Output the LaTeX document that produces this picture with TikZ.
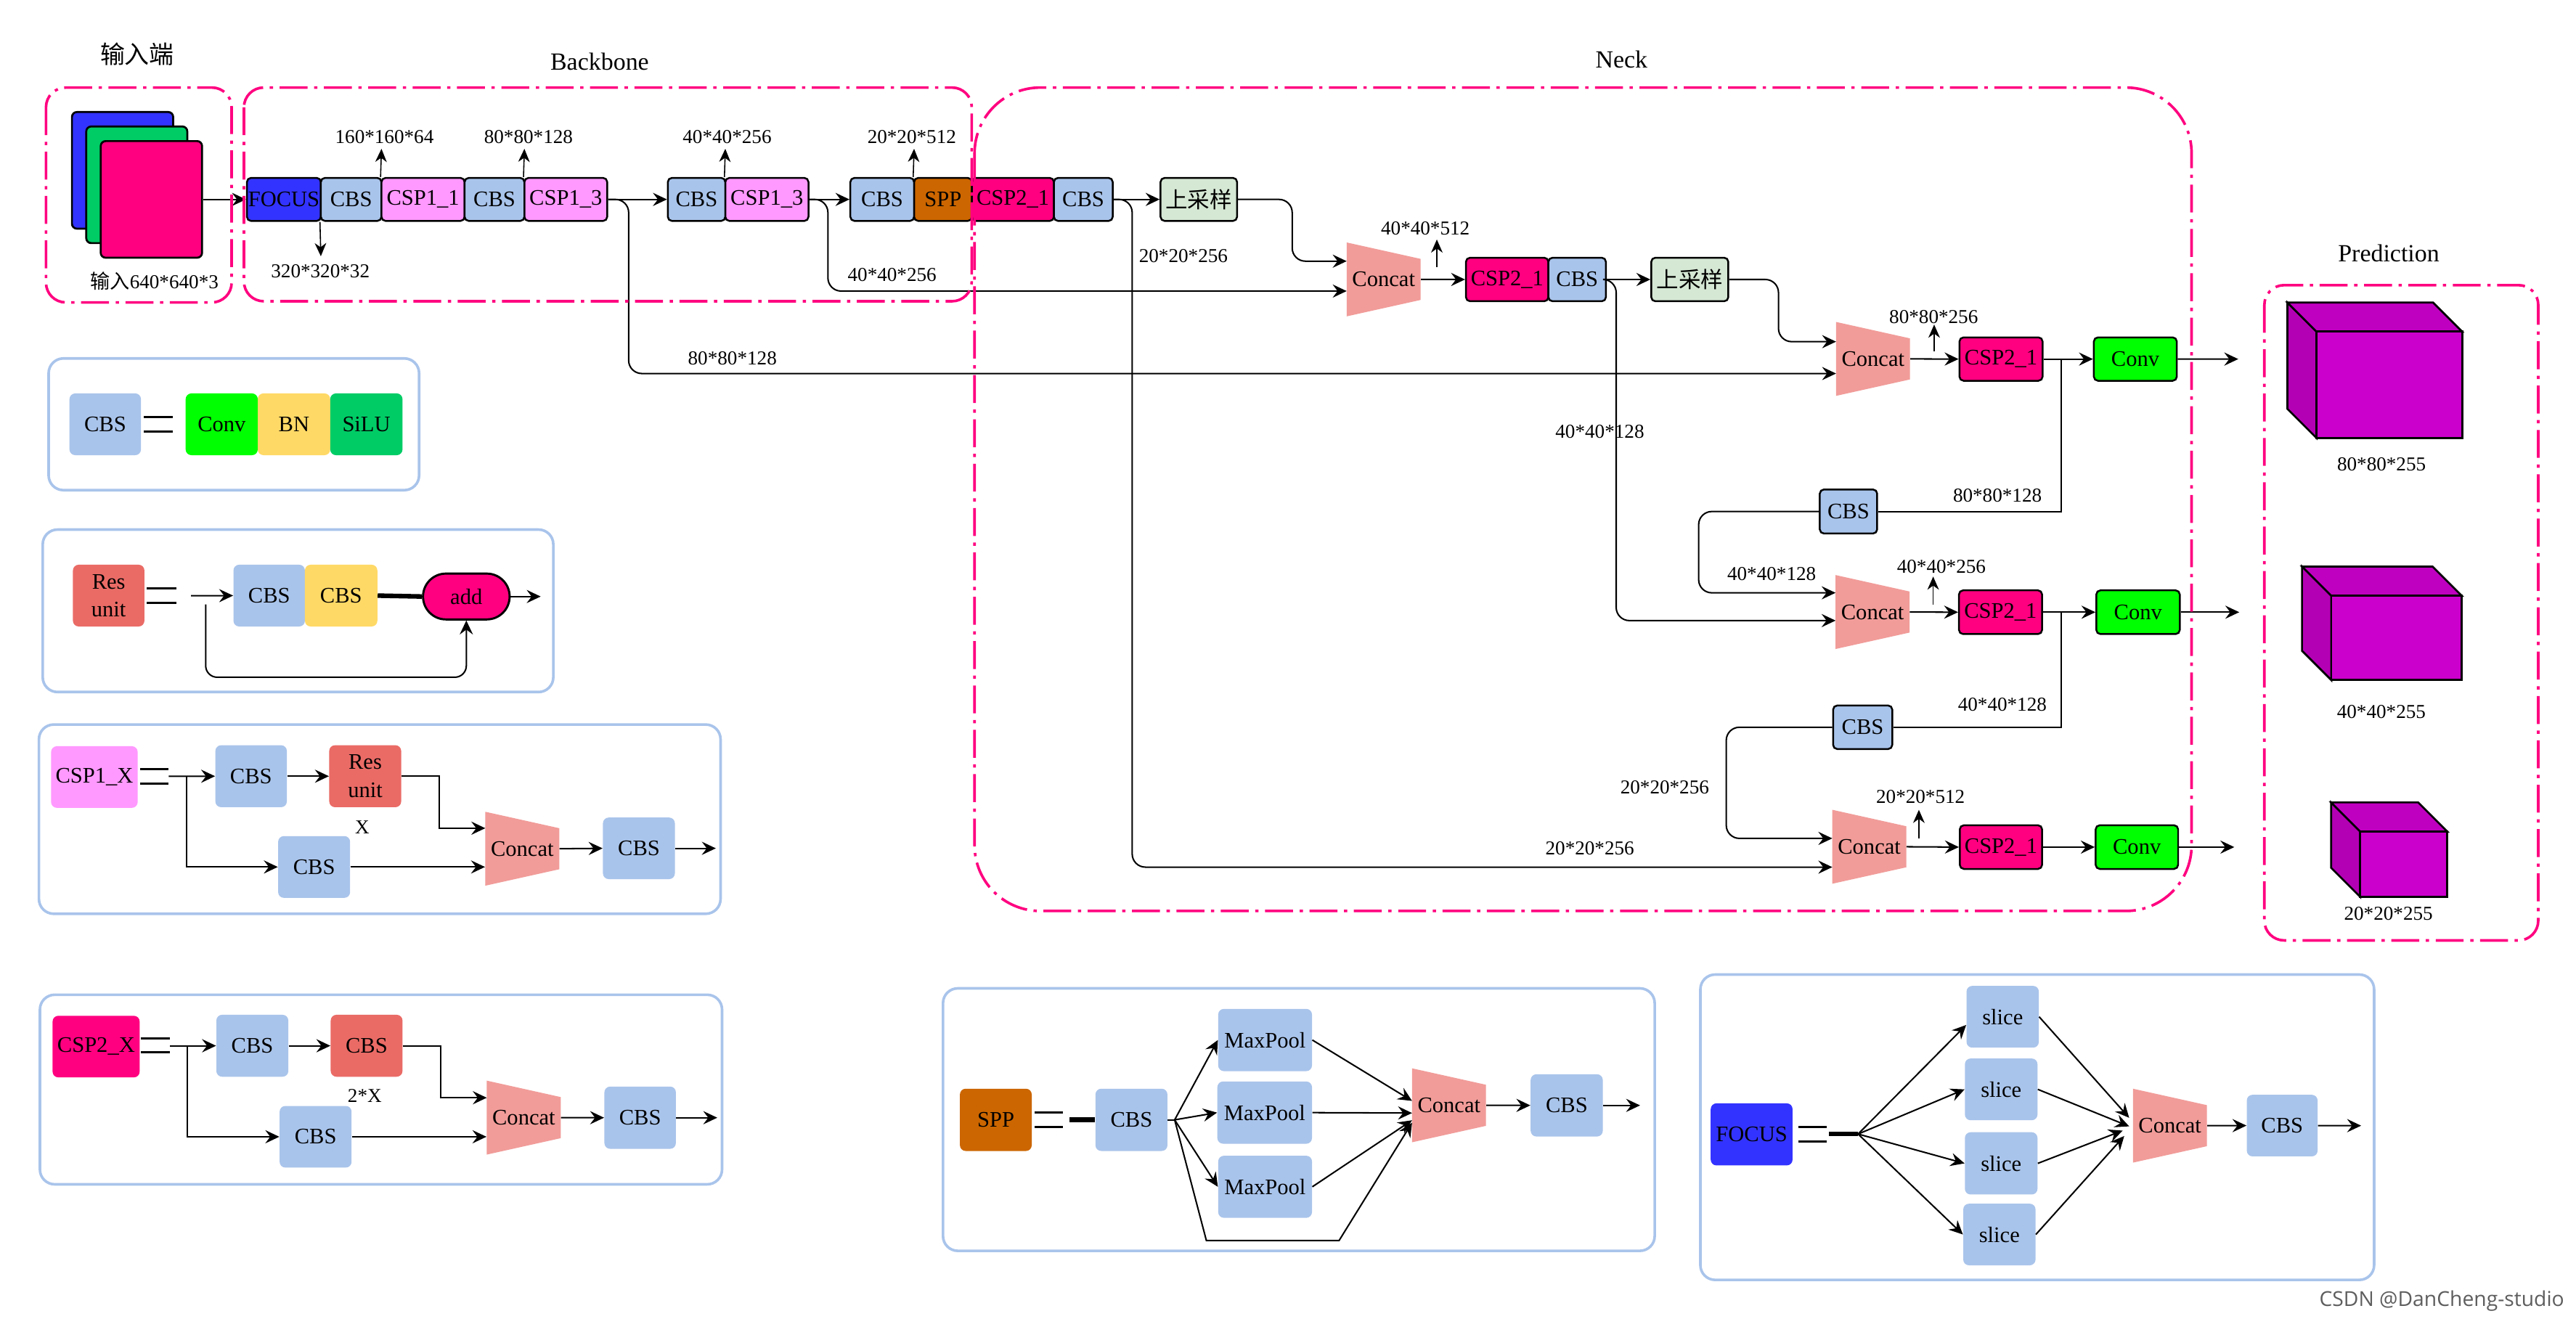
\documentclass[tikz,border=0pt]{standalone}
\usepackage{fontspec}
\setmainfont{Liberation Serif}
\newfontfamily\cjk{Noto Sans CJK SC}
\newfontfamily\wmfont{Open Sans}
\usetikzlibrary{arrows.meta}
\definecolor{cbsc}{HTML}{A9C4EB}
\definecolor{csp1c}{HTML}{FF99FF}
\definecolor{csp2c}{HTML}{FF0080}
\definecolor{focc}{HTML}{3333FF}
\definecolor{sppc}{HTML}{CC6600}
\definecolor{upc}{HTML}{D5E8D4}
\definecolor{convc}{HTML}{00FF00}
\definecolor{bnc}{HTML}{FFD966}
\definecolor{siluc}{HTML}{00CC66}
\definecolor{resc}{HTML}{EA6B66}
\definecolor{ccfill}{HTML}{F19C99}
\definecolor{ddc}{HTML}{FF0080}
\definecolor{cubefront}{HTML}{CC00CC}
\definecolor{cubetop}{HTML}{C000C0}
\definecolor{cubeside}{HTML}{B400B4}
\definecolor{wmc}{HTML}{5E5E5E}
\newcommand\fsbox{\fontsize{13.5pt}{17pt}\selectfont}
\newcommand\fsdim{\fontsize{12pt}{14pt}\selectfont}
\newcommand\fstitle{\fontsize{15pt}{18pt}\selectfont}
\newcommand\bx[7]{\node[#1, minimum width={(#5-#3)*1pt}, minimum height={(#6-#4)*1pt}] (#2) at ({(#3+#5)/2},{(#4+#6)/2}) {#7};}
\newcommand\cc[3]{\fill[ccfill] (#2,#3-22.5) -- (#2+45,#3-12.5) -- (#2+45,#3+12.5) -- (#2,#3+22.5) -- cycle;
\node[inner sep=0pt, minimum width=45pt, minimum height=45pt, font=\fsbox] (#1) at (#2+22.5,#3) {Concat};}
\newcommand\cube[5]{%
\filldraw[cubeline, fill=cubeside] (#1,#2) -- (#1-#5,#2-#5) -- (#1-#5,#2+#4-#5) -- (#1,#2+#4) -- cycle;
\filldraw[cubeline, fill=cubetop] (#1,#2) -- (#1-#5,#2-#5) -- (#1+#3-#5,#2-#5) -- (#1+#3,#2) -- cycle;
\filldraw[cubeline, fill=cubefront] (#1,#2) rectangle (#1+#3,#2+#4);}
\tikzset{
 mb/.style={draw=black, line width=1.1pt, rounded corners=2.5pt, inner sep=0pt, font=\fsbox, text=black},
 lg/.style={rounded corners=3.5pt, inner sep=0pt, font=\fsbox, text=black, align=center},
 inimg/.style={draw=black, line width=1.2pt, rounded corners=3pt, inner sep=0pt},
 dim/.style={inner sep=0pt, font=\fsdim},
 arr/.style={line width=0.9pt, -{Stealth[length=8.5pt,width=8pt,inset=3pt]}},
 tarr/.style={line width=0.7pt, -{Stealth[length=8pt,width=7pt,inset=2.5pt]}},
 ln/.style={line width=0.9pt},
 eqln/.style={line width=1.2pt},
 thk/.style={line width=2.8pt},
 dd/.style={draw=ddc, line width=1.6pt, dash pattern=on 17pt off 4pt on 2pt off 4pt},
 lgbox/.style={draw=cbsc, line width=1.6pt, rounded corners=9pt},
 cubeline/.style={draw=black, line width=1.2pt, line join=miter},
}
\begin{document}
\begin{tikzpicture}[x=1pt,y=-1pt]
\useasboundingbox (0,0) rectangle (1568,802.6);
\fill[white] (0,0) rectangle (1568,802.6);

% titles
\node[font=\fstitle\cjk] (tin) at (83.5,33) {输入端};
\node[font=\fstitle] (tbb) at (365,37.6) {Backbone};
\node[font=\fstitle] (tneck) at (987,36) {Neck};
\node[font=\fstitle] (tpred) at (1454,154) {Prediction};

% input images
\bx{inimg, fill=focc}{imgb}{43.8}{68.2}{105.4}{139.2}{}
\bx{inimg, fill=siluc}{imgg}{52.5}{77}{114}{148}{}
\bx{inimg, fill=csp2c}{imgp}{61.3}{85.9}{123}{156.9}{}
\node[dim] (lin) at (94,171) {{\cjk 输入}640*640*3};

% main row
\bx{mb,fill=focc}{foc}{150.3}{108.3}{195.3}{134.5}{FOCUS}
\bx{mb,fill=cbsc}{cbs1}{195.3}{108.3}{232.2}{134.5}{CBS}
\bx{mb,fill=csp1c}{csp11}{232.2}{108.3}{282.8}{134.5}{CSP1\_1}
\bx{mb,fill=cbsc}{cbs2}{282.8}{108.3}{319.2}{134.5}{CBS}
\bx{mb,fill=csp1c}{csp13a}{319.2}{108.3}{369.6}{134.5}{CSP1\_3}
\bx{mb,fill=cbsc}{cbs3}{406.5}{108.3}{441.5}{134.5}{CBS}
\bx{mb,fill=csp1c}{csp13b}{441.5}{108.3}{492.1}{134.5}{CSP1\_3}
\bx{mb,fill=cbsc}{cbs4}{517.6}{108.3}{556.4}{134.5}{CBS}
\bx{mb,fill=sppc}{spp1}{556.4}{108.3}{591.6}{134.5}{SPP}
\bx{mb,fill=csp2c}{csp21}{591.6}{108.3}{641.5}{134.5}{CSP2\_1}
\bx{mb,fill=cbsc}{cbs5}{641.5}{108.3}{677.3}{134.5}{CBS}
\bx{mb,fill=upc,font=\fsbox\cjk}{up1}{706.4}{108.3}{753}{134.5}{上采样}

\draw[arr] (imgp.east) -- (foc.west);
\draw[arr] (csp13a.east) -- (cbs3.west);
\draw[arr] (csp13b.east) -- (cbs4.west);
\draw[arr] (cbs5.east) -- (up1.west);

% main row dimension arrows
\coordinate (ta1) at (232.2,90.6);
\coordinate (ta2) at (319.2,90.6);
\coordinate (ta3) at (441.5,90.6);
\coordinate (ta4) at (556.4,90.6);
\coordinate (td1) at (195.3,156);
\draw[tarr] (csp11.north west) -- (ta1);
\draw[tarr] (csp13a.north west) -- (ta2);
\draw[tarr] (csp13b.north west) -- (ta3);
\draw[tarr] (spp1.north west) -- (ta4);
\draw[tarr] (cbs1.south west) -- (td1);
\node[dim] (d1) at (234,83.3) {160*160*64};
\node[dim] (d2) at (321.7,83.3) {80*80*128};
\node[dim] (d3) at (442.6,83.3) {40*40*256};
\node[dim] (d4) at (555,83.3) {20*20*512};
\node[dim] (d5) at (195,165) {320*320*32};

% neck
\cc{c1}{819.7}{170.1}
\bx{mb,fill=csp2c}{n1csp}{892.3}{156.9}{942.5}{183.4}{CSP2\_1}
\bx{mb,fill=cbsc}{n1cbs}{942.5}{156.9}{977.5}{183.4}{CBS}
\bx{mb,fill=upc,font=\fsbox\cjk}{up2}{1005.1}{156.9}{1052}{183.4}{上采样}
\cc{c2}{1117.6}{218.5}
\bx{mb,fill=csp2c}{n2csp}{1192.7}{205.4}{1243.3}{231.8}{CSP2\_1}
\bx{mb,fill=convc}{conv1}{1274.5}{205.4}{1325}{231.8}{Conv}
\bx{mb,fill=cbsc}{n2b}{1107.7}{298}{1142.6}{324.8}{CBS}
\cc{c3}{1117.3}{372.6}
\bx{mb,fill=csp2c}{n3csp}{1192.4}{359.4}{1243}{386}{CSP2\_1}
\bx{mb,fill=convc}{conv2}{1276}{359.4}{1326.8}{386}{Conv}
\bx{mb,fill=cbsc}{n3b}{1115.8}{429.5}{1151.8}{456}{CBS}
\cc{c4}{1115.3}{515.5}
\bx{mb,fill=csp2c}{n4csp}{1192.9}{502.4}{1243}{529}{CSP2\_1}
\bx{mb,fill=convc}{conv3}{1275.6}{502.4}{1325.8}{529}{Conv}

\coordinate (c1a) at (819.7,159);
\coordinate (c1b) at (819.7,177.2);
\coordinate (c2a) at (1117.6,208);
\coordinate (c2b) at (1117.6,227.4);
\coordinate (c3a) at (1117.3,360.9);
\coordinate (c3b) at (1117.3,377.8);
\coordinate (c4a) at (1115.3,510.4);
\coordinate (c4b) at (1115.3,527.9);

\draw[arr,rounded corners=8pt] (up1.east) -- ++(33,0) |- (c1a);
\draw[arr,rounded corners=8pt] (csp13b.east) -- ++(11.3,0) |- (c1b);
\draw[arr,rounded corners=8pt] (csp13a.east) -- ++(12.5,0) |- (c2b);
\draw[arr,rounded corners=8pt] (cbs5.east) -- ++(11.3,0) |- (c4b);
\draw[arr] (c1.east) -- (n1csp.west);
\draw[arr] (n1cbs.east) -- (up2.west);
\draw[arr,rounded corners=8pt] (up2.east) -- ++(30,0) |- (c2a);
\draw[arr,rounded corners=8pt] (n1cbs.east) -- ++(5.7,0) |- (c3b);
\draw[arr] (c2.east) -- (n2csp.west);
\draw[arr] (n2csp.east) -- (conv1.west);
\coordinate (o1) at (1362.4,218.6);
\draw[arr] (conv1.east) -- (o1);
\draw[ln] ([xshift=11pt]n2csp.east) |- (n2b.east);
\draw[arr,rounded corners=8pt] (n2b.west) -- ++(-73.2,0) |- (c3a);
\draw[arr] (c3.east) -- (n3csp.west);
\draw[arr] (n3csp.east) -- (conv2.west);
\coordinate (o2) at (1363,372.7);
\draw[arr] (conv2.east) -- (o2);
\draw[ln] ([xshift=11.3pt]n3csp.east) |- (n3b.east);
\draw[arr,rounded corners=8pt] (n3b.west) -- ++(-64.5,0) |- (c4a);
\draw[arr] (c4.east) -- (n4csp.west);
\draw[arr] (n4csp.east) -- (conv3.west);
\coordinate (o3) at (1360,515.7);
\draw[arr] (conv3.east) -- (o3);

\coordinate (ua1) at (874.6,162.7); \coordinate (ub1) at (874.6,145.8);
\coordinate (ua2) at (1177.3,214);  \coordinate (ub2) at (1177.3,197.6);
\coordinate (ua3) at (1176.7,368);  \coordinate (ub3) at (1176.7,351);
\coordinate (ua4) at (1168,510.4);  \coordinate (ub4) at (1168,493);
\draw[tarr] (ua1) -- (ub1);
\draw[tarr] (ua2) -- (ub2);
\draw[tarr] (ua3) -- (ub3);
\draw[tarr] (ua4) -- (ub4);

\node[dim] (e1) at (543,167.2) {40*40*256};
\node[dim] (e2) at (445.8,218.3) {80*80*128};
\node[dim] (e3) at (720.3,155.7) {20*20*256};
\node[dim] (e4) at (867.6,138.9) {40*40*512};
\node[dim] (e5) at (1177,193) {80*80*256};
\node[dim] (e6) at (973.8,262.8) {40*40*128};
\node[dim] (e7) at (1215.8,301.5) {80*80*128};
\node[dim] (e8) at (1078.4,349.5) {40*40*128};
\node[dim] (e9) at (1181.7,345) {40*40*256};
\node[dim] (e10) at (1218.8,429) {40*40*128};
\node[dim] (e11) at (1013.3,479.2) {20*20*256};
\node[dim] (e12) at (1169,485.2) {20*20*512};
\node[dim] (e13) at (967.7,516.3) {20*20*256};

% prediction cubes
\cube{1410}{201.9}{88.7}{64.7}{17.7}
\cube{1419}{362.7}{79.5}{51.3}{17.8}
\cube{1436.6}{506.2}{53}{39.8}{17.7}
\node[dim] (p1) at (1449.6,282.8) {80*80*255};
\node[dim] (p2) at (1449.5,433.4) {40*40*255};
\node[dim] (p3) at (1453.8,556.1) {20*20*255};

% legend 1: CBS
\draw[lgbox] (29.6,218.2) rectangle (255.1,298.4);
\bx{lg,fill=cbsc}{cbsL}{42.3}{239.5}{85.8}{277.1}{CBS}
\bx{lg,fill=convc}{convL}{113}{239.5}{156.9}{277.1}{Conv}
\bx{lg,fill=bnc}{bnL}{156.9}{239.5}{201}{277.1}{BN}
\bx{lg,fill=siluc}{siluL}{201}{239.5}{245}{277.1}{SiLU}
\draw[eqln] (87.6,253.9) -- (105,253.9);
\draw[eqln] (87.6,262.7) -- (105,262.7);

% legend 2: Res unit
\draw[lgbox] (26,322.4) rectangle (336.8,421.3);
\bx{lg,fill=resc}{resL}{44.4}{343.8}{87.9}{381.4}{Res\\unit}
\draw[eqln] (89.4,358.2) -- (107.2,358.2);
\draw[eqln] (89.4,367) -- (107.2,367);
\bx{lg,fill=cbsc}{cbsR1}{142.1}{343.8}{185.6}{381.4}{CBS}
\bx{lg,fill=bnc}{cbsR2}{185.6}{343.8}{229.7}{381.4}{CBS}
\node[draw=black, line width=1.3pt, fill=csp2c, rounded corners=13.9pt, inner sep=0pt, minimum width=52.7pt, minimum height=27.9pt, font=\fsbox] (add) at (283.85,363.15) {add};
\coordinate (rin) at (116.3,362.7);
\draw[arr] (rin) -- (cbsR1.west);
\draw[thk] (cbsR2.east) -- (add.west);
\coordinate (rout) at (329.1,363.15);
\draw[arr] (add.east) -- (rout);
\coordinate (rs) at (125.2,368);
\draw[arr,rounded corners=7pt] (rs) -- ++(0,44.3) -| (add.south);

% legend 3: CSP1_X
\draw[lgbox] (23.7,441.1) rectangle (438.6,556.3);
\bx{lg,fill=csp1c}{c1x}{31.1}{454.3}{83.8}{491.8}{CSP1\_X}
\draw[eqln] (85.3,468.1) -- (102.7,468.1);
\draw[eqln] (85.3,477) -- (102.7,477);
\bx{lg,fill=cbsc}{cbsA}{131.1}{453.7}{174.6}{491.4}{CBS}
\bx{lg,fill=resc}{resA}{200.4}{453.7}{244.2}{491.4}{Res\\unit}
\bx{lg,fill=cbsc}{cbsB}{169.3}{509}{213.1}{546.6}{CBS}
\cc{ccA}{295.4}{516.7}
\bx{lg,fill=cbsc}{cbsC}{367}{497.7}{410.8}{535.2}{CBS}
\coordinate (p3a) at (102.7,472.6);
\coordinate (p3b) at (113.4,472.6);
\coordinate (c3in1) at (295.4,504.2);
\coordinate (p3o) at (435.7,516.45);
\draw[arr] (p3a) -- (cbsA.west);
\draw[arr] (cbsA.east) -- (resA.west);
\draw[arr] (resA.east) -- ++(23.1,0) |- (c3in1);
\draw[arr] (p3b) |- (cbsB.west);
\draw[arr] (cbsB.east) -- (cbsB.east -| ccA.west);
\draw[arr] (ccA.east) -- (cbsC.west);
\draw[arr] (cbsC.east) -- (p3o);
\node[dim] (lx) at (220.5,503.6) {X};

% legend 4: CSP2_X
\draw[lgbox] (24.3,605.6) rectangle (439.5,721);
\bx{lg,fill=csp2c}{c2x}{32}{618.4}{85}{655.9}{CSP2\_X}
\draw[eqln] (85.8,632.2) -- (103.6,632.2);
\draw[eqln] (85.8,640.7) -- (103.6,640.7);
\bx{lg,fill=cbsc}{cbsD}{131.7}{617.8}{175.5}{655.5}{CBS}
\bx{lg,fill=resc}{cbsE}{201.3}{617.8}{245}{655.5}{CBS}
\bx{lg,fill=cbsc}{cbsF}{170.2}{673.3}{214}{710.8}{CBS}
\cc{ccB}{296.3}{680.4}
\bx{lg,fill=cbsc}{cbsG}{367.9}{661.5}{411.4}{699.4}{CBS}
\coordinate (p4a) at (103.6,636.65);
\coordinate (p4b) at (114.2,636.65);
\coordinate (c4in1) at (296.3,668.3);
\coordinate (p4o) at (436.6,680.45);
\draw[arr] (p4a) -- (cbsD.west);
\draw[arr] (cbsD.east) -- (cbsE.west);
\draw[arr] (cbsE.east) -- ++(23.2,0) |- (c4in1);
\draw[arr] (p4b) |- (cbsF.west);
\draw[arr] (cbsF.east) -- (cbsF.east -| ccB.west);
\draw[arr] (ccB.east) -- (cbsG.west);
\draw[arr] (cbsG.east) -- (p4o);
\node[dim] (l2x) at (222,667) {2*X};

% legend 5: SPP
\draw[lgbox] (574,601.7) rectangle (1007.2,761.5);
\bx{lg,fill=sppc}{sppL}{584.3}{662.8}{628}{700.7}{SPP}
\draw[eqln] (629.8,677.3) -- (647,677.3);
\draw[eqln] (629.8,686.1) -- (647,686.1);
\bx{lg,fill=cbsc}{cbsS}{666.8}{662.8}{710.6}{700.7}{CBS}
\bx{lg,fill=cbsc}{mp1}{741.5}{614.2}{798.6}{652.1}{MaxPool}
\bx{lg,fill=cbsc}{mp2}{741}{658.4}{798.6}{696.3}{MaxPool}
\bx{lg,fill=cbsc}{mp3}{741.5}{703.6}{798.6}{741.4}{MaxPool}
\cc{ccS}{859.5}{672.9}
\bx{lg,fill=cbsc}{cbsT}{931.7}{654}{975.6}{691.9}{CBS}
\coordinate (sppt) at (650.9,681.75);
\coordinate (fS) at (715,681.75);
\coordinate (bp1) at (734.3,755.2);
\coordinate (bp2) at (815.1,755.2);
\coordinate (ccSa) at (859.5,670.2);
\coordinate (ccSb) at (859.5,677.6);
\coordinate (ccSc) at (859.5,682);
\coordinate (ccSd) at (859.5,683.5);
\coordinate (sppo) at (998.3,672.95);
\draw[thk] (sppt) -- (cbsS.west);
\draw[ln] (cbsS.east) -- (fS);
\draw[arr] (fS) -- (mp1.west);
\draw[arr] (fS) -- (mp2.west);
\draw[arr] (fS) -- (mp3.west);
\draw[arr] (fS) -- (bp1) -- (bp2) -- (ccSd);
\draw[arr] (mp1.east) -- (ccSa);
\draw[arr] (mp2.east) -- (ccSb);
\draw[arr] (mp3.east) -- (ccSc);
\draw[arr] (ccS.east) -- (cbsT.west);
\draw[arr] (cbsT.east) -- (sppo);

% legend 6: FOCUS
\draw[lgbox] (1035,593.3) rectangle (1445.1,779.2);
\bx{lg,fill=focc}{focL}{1041.3}{671.7}{1091.1}{709.5}{FOCUS}
\draw[eqln] (1094.5,686) -- (1112,686);
\draw[eqln] (1094.5,694.8) -- (1112,694.8);
\bx{lg,fill=cbsc}{s1}{1197}{600.2}{1241}{637.8}{slice}
\bx{lg,fill=cbsc}{s2}{1196}{644.4}{1240.2}{682}{slice}
\bx{lg,fill=cbsc}{s3}{1196}{689.3}{1240.2}{727.2}{slice}
\bx{lg,fill=cbsc}{s4}{1195}{732.8}{1239}{770.3}{slice}
\cc{ccF}{1298.3}{685.3}
\bx{lg,fill=cbsc}{cbsU}{1367.6}{666.5}{1410.7}{704}{CBS}
\coordinate (fct) at (1113.4,690.4);
\coordinate (fF) at (1131,690.4);
\coordinate (ccFa) at (1296,680.5);
\coordinate (ccFb) at (1296,685.7);
\coordinate (ccFc) at (1292,688.3);
\coordinate (ccFd) at (1293,691.6);
\coordinate (foco) at (1437.2,685.3);
\draw[thk] (fct) -- (fF);
\draw[arr] (fF) -- ([yshift=-5pt]s1.west);
\draw[arr] (fF) -- (s2.west);
\draw[arr] (fF) -- (s3.west);
\draw[arr] (fF) -- (s4.west);
\draw[arr] (s1.east) -- (ccFa);
\draw[arr] (s2.east) -- (ccFb);
\draw[arr] (s3.east) -- (ccFc);
\draw[arr] (s4.east) -- (ccFd);
\draw[arr] (ccF.east) -- (cbsU.west);
\draw[arr] (cbsU.east) -- (foco);

% dash-dot group frames
\draw[dd, rounded corners=12pt] (28,53.3) rectangle (141,184.1);
\draw[dd, rounded corners=12pt] (148.5,53.3) rectangle (591.5,183.4);
\draw[dd, rounded corners=40pt] (593.2,53.3) rectangle (1334,554.6);
\draw[dd, rounded corners=12pt] (1378.3,173.6) rectangle (1545,572.5);

% watermark
\node[font=\wmfont\fontsize{12.5pt}{15pt}\selectfont, text=wmc, anchor=east, inner sep=0pt] (wm) at (1561,792) {CSDN @DanCheng-studio};
\end{tikzpicture}
\end{document}
